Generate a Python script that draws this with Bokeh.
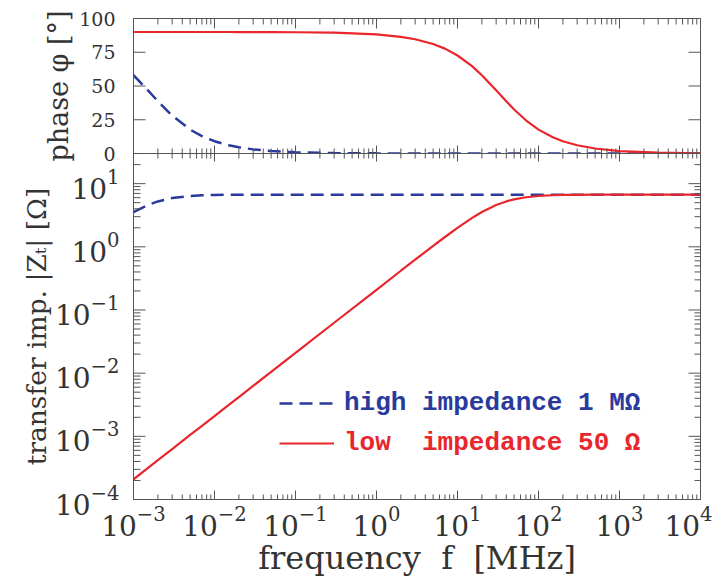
import numpy as np
from bokeh.plotting import figure
from bokeh.layouts import column
from bokeh.models import (FixedTicker, Legend, LegendItem, Range1d)
from bokeh.embed import file_html
from bokeh.resources import INLINE

# ---- data ----
freq = [0.001, 0.0015, 0.002, 0.003, 0.005, 0.007, 0.01, 0.015, 0.02, 0.03, 0.05,
        0.1, 0.3, 1, 2, 3, 5, 7, 10, 15, 20, 30, 40, 50, 70, 100, 150, 200, 300,
        500, 1000, 3000, 10000]
phase_high = [58.0, 46.9, 38.7, 28.1, 17.7, 12.9, 9.1, 6.1, 4.6, 3.05, 1.8,
              0.9, 0.3, 0.1, 0.05, 0.03, 0.02, 0.01, 0.0, 0.0, 0.0, 0.0, 0.0, 0.0, 0.0,
              0.0, 0.0, 0.0, 0.0, 0.0, 0.0, 0.0, 0.0]
phase_low = [90.0, 90.0, 90.0, 90.0, 90.0, 90.0, 90.0, 90.0, 89.95, 89.9, 89.9,
             89.8, 89.5, 88.2, 86.4, 84.6, 81.1, 77.7, 72.6, 64.9, 58.0, 46.8, 38.7,
             32.6, 24.6, 17.7, 12.0, 9.1, 6.1, 3.7, 1.8, 0.6, 0.2]
z_high = [3.55, 4.58, 5.23, 5.91, 6.38, 6.53, 6.62, 6.66, 6.68, 6.69, 6.7,
          6.7, 6.7, 6.7, 6.7, 6.7, 6.7, 6.7, 6.7, 6.7, 6.7, 6.7, 6.7, 6.7, 6.7,
          6.7, 6.7, 6.7, 6.7, 6.7, 6.7, 6.7, 6.7]
z_low = [2.09e-4, 3.14e-4, 4.19e-4, 6.28e-4, 1.05e-3, 1.47e-3, 2.09e-3, 3.14e-3,
         4.19e-3, 6.28e-3, 1.05e-2, 2.09e-2, 6.28e-2, 0.209, 0.418, 0.625, 1.034,
         1.43, 2.00, 2.84, 3.55, 4.58, 5.23, 5.64, 6.09, 6.38, 6.55, 6.62, 6.66,
         6.69, 6.7, 6.7, 6.7]
x_decades = [1e-3, 1e-2, 1e-1, 1e0, 1e1, 1e2, 1e3, 1e4]
z_decades = [1e-4, 1e-3, 1e-2, 1e-1, 1e0, 1e1]
phase_ticks = [0, 25, 50, 75, 100]
labels = ["high impedance 1 M\u03a9", "low\u00a0 impedance 50 \u03a9"]

# ---- styling ----
BLUE = "#2a3a9c"
RED = "#e8262c"
AX = "#555555"
TXT = "#333333"
SERIF = "DejaVu Serif"

x_minor = [d * k for d in x_decades[:-1] for k in range(2, 10)]
z_minor = [d * k for d in z_decades for k in range(2, 10) if d * k <= 30]
x_lo, x_hi = x_decades[0], x_decades[-1]
ph_lo, ph_hi = phase_ticks[0], phase_ticks[-1]
z_lo, z_hi = z_decades[0], 30


def style_axis(ax):
    ax.axis_line_color = AX
    ax.major_tick_in = 0
    ax.major_tick_out = 0
    ax.minor_tick_in = 0
    ax.minor_tick_out = 0
    ax.major_label_text_font = SERIF
    ax.major_label_text_color = TXT
    ax.axis_label_text_font = SERIF
    ax.axis_label_text_font_style = "normal"
    ax.axis_label_text_color = TXT


def ticks_x(p, xs, y, up, length):
    p.ray(x=xs, y=[y] * len(xs), length=length, length_units="screen",
          angle=(np.pi / 2 if up else -np.pi / 2), line_color=AX, line_width=1)


def ticks_y(p, ys, x, right, length):
    p.ray(x=[x] * len(ys), y=ys, length=length, length_units="screen",
          angle=(0 if right else np.pi), line_color=AX, line_width=1)


LB, RB = 133, 12
W = LB + 567 + RB
TB = 18
# ---- top panel: phase ----
p1 = figure(width=W, height=TB + 135 + 12, x_axis_type="log",
            x_range=Range1d(x_lo, x_hi), y_range=Range1d(ph_lo, ph_hi),
            output_backend="svg", toolbar_location=None,
            min_border_left=LB, min_border_right=RB, min_border_top=TB, min_border_bottom=12)
p1.grid.visible = False
p1.outline_line_color = AX
p1.xaxis.visible = False

p1.line(freq, phase_high, line_color=BLUE, line_width=2.5, line_dash="13 7")
p1.line(freq, phase_low, line_color=RED, line_width=2.2)

ticks_x(p1, x_decades, ph_hi, False, 10)
ticks_x(p1, x_minor, ph_hi, False, 6)
ticks_x(p1, x_decades, ph_lo, True, 8)
ticks_x(p1, x_minor, ph_lo, True, 5)
ticks_y(p1, phase_ticks, x_lo, True, 12)
ticks_y(p1, phase_ticks, x_hi, False, 12)

ya = p1.yaxis[0]
ya.ticker = FixedTicker(ticks=phase_ticks, minor_ticks=[])
style_axis(ya)
ya.major_label_text_font_size = "19px"
ya.major_label_standoff = 18
ya.axis_label = "phase \u03c6 [\u00b0]"
ya.axis_label_text_font_size = "27px"
ya.axis_label_standoff = 2

# ---- bottom panel: |Zt| ----
B = 76
p2 = figure(width=W, height=350 + B, x_axis_type="log", y_axis_type="log",
            x_range=p1.x_range, y_range=Range1d(z_lo, z_hi),
            output_backend="svg", toolbar_location=None,
            min_border_left=LB, min_border_right=RB, min_border_top=0, min_border_bottom=B)
p2.grid.visible = False
p2.outline_line_color = AX
p2.border_fill_alpha = 0
p2.styles = {"margin-top": "-12px"}

rb = p2.line(freq, z_high, line_color=BLUE, line_width=2.5, line_dash="13 7")
rr = p2.line(freq, z_low, line_color=RED, line_width=2.2)

ticks_x(p2, x_decades, z_hi, False, 8)
ticks_x(p2, x_minor, z_hi, False, 5)
ticks_x(p2, x_decades, z_lo, True, 9)
ticks_x(p2, x_minor, z_lo, True, 5)
ticks_y(p2, z_decades, x_lo, True, 12)
ticks_y(p2, z_minor, x_lo, True, 7)
ticks_y(p2, z_decades, x_hi, False, 12)
ticks_y(p2, z_minor, x_hi, False, 6)

xb = p2.xaxis[0]
xb.ticker = FixedTicker(ticks=x_decades, minor_ticks=[])
style_axis(xb)
xb.major_label_text_font_size = "28px"
xb.major_label_standoff = 6
xb.axis_label = "frequency\u00a0 f\u00a0 [MHz]"
xb.axis_label_text_font_size = "32px"
xb.axis_label_standoff = 0

yb = p2.yaxis[0]
yb.ticker = FixedTicker(ticks=z_decades, minor_ticks=[])
style_axis(yb)
yb.major_label_text_font_size = "28px"
yb.major_label_standoff = 14
yb.axis_label = "transfer imp. |Z\u209c| [\u03a9]"
yb.axis_label_text_font_size = "26.5px"
yb.axis_label_standoff = 0

for lab, rend, col, loc in [(labels[0], rb, BLUE, (146, 81)), (labels[1], rr, RED, (146, 41))]:
    leg = Legend(items=[LegendItem(label=lab, renderers=[rend])], location=loc,
                 glyph_width=55, glyph_height=20, label_height=20, label_standoff=10,
                 padding=0, margin=0, border_line_color=None, background_fill_alpha=0,
                 label_text_font="Liberation Mono", label_text_font_style="bold",
                 label_text_font_size="26px", label_text_color=col)
    p2.add_layout(leg)

layout = column(p1, p2, spacing=0)
open("out.html", "w").write(file_html(layout, INLINE))
